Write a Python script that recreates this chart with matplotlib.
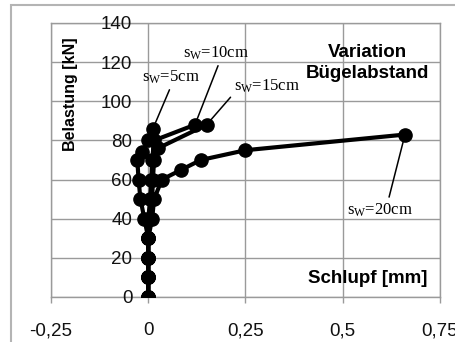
import matplotlib
matplotlib.use("Agg")
import matplotlib.pyplot as plt
from matplotlib.patches import Rectangle

plt.rcParams['font.family'] = ['Liberation Sans', 'DejaVu Sans']
plt.rcParams['mathtext.fontset'] = 'custom'
plt.rcParams['mathtext.rm'] = 'Liberation Serif'

# Schlupf [mm] / Belastung [kN] je Bügelabstand
sw5_x = [0, 0, 0, 0, -0.01, -0.02, -0.025, -0.028, -0.015, 0, 0.012]
sw5_y = [0, 10, 20, 30, 40, 50, 60, 70, 74, 80, 86]
sw10_x = [0, 0, 0, 0, 0, 0.005, 0.008, 0.01, 0.015, 0.12]
sw10_y = [0, 10, 20, 30, 40, 50, 60, 70, 80, 88]
sw15_x = [0, 0, 0, 0, 0.005, 0.01, 0.012, 0.015, 0.025, 0.15]
sw15_y = [0, 10, 20, 30, 40, 50, 60, 70, 76, 88]
sw20_x = [0, 0, 0, 0, 0.01, 0.015, 0.035, 0.085, 0.135, 0.25, 0.66]
sw20_y = [0, 10, 20, 30, 40, 50, 60, 65, 70, 75, 83]

series = [
    (sw5_x, sw5_y, "5cm"),
    (sw10_x, sw10_y, "10cm"),
    (sw15_x, sw15_y, "15cm"),
    (sw20_x, sw20_y, "20cm"),
]

x_ticks = [-0.25, 0, 0.25, 0.5, 0.75]
x_ticklabels = ["-0,25", "0", "0,25", "0,5", "0,75"]
y_ticks = [0, 20, 40, 60, 80, 100, 120, 140]

fig = plt.figure(figsize=(4.56, 3.42), dpi=100)
ax = fig.add_axes([51/456, 1-297/342, 389/456, 274/342])

grid_c = '#9a9a9a'
for s in ax.spines.values():
    s.set_color(grid_c)
    s.set_linewidth(1.0)
ax.set_xlim(-0.25, 0.75)
ax.set_ylim(0, 140)
ax.set_xticks(x_ticks)
ax.set_xticklabels(x_ticklabels, fontsize=13.5, color='#111111')
ax.set_yticks(y_ticks)
ax.set_yticklabels([])
ax.tick_params(axis='x', direction='out', length=4, width=1.0, color=grid_c, pad=14)
ax.tick_params(axis='y', length=0)
ax.grid(True, color=grid_c, linewidth=1.0)
ax.set_axisbelow(True)

# y tick labels next to x=0 axis
for v in y_ticks:
    ax.text(-0.041, v - 1, str(v), ha='right', va='center', fontsize=13.5, color='#111111')

for xs, ys, name in series:
    ax.plot(xs, ys, color='black', lw=3.0, marker='o', markersize=9.5, zorder=3)

# labels with leader lines
label_pos = {"5cm": (0.059, 112.4, (0.5, 0)),
             "10cm": (0.175, 124.7, (0.55, 0)),
             "15cm": (0.306, 107.8, (0.0, 0.1)),
             "20cm": (0.596, 44.5, (0.62, 1))}
for xs, ys, name in series:
    tx, ty, rp = label_pos[name]
    ax.annotate(r"$\mathregular{s_{W}}$=" + name, xy=(xs[-1], ys[-1]), xytext=(tx, ty),
                ha='center', va='center', fontsize=12, family='Liberation Serif',
                arrowprops=dict(arrowstyle='-', color='black', lw=1.1,
                                shrinkA=1, shrinkB=0, relpos=rp),
                zorder=4)

ax.text(0.563, 119.6, "Variation\nBügelabstand", ha='center', va='center',
        fontsize=13.5, fontweight='bold', linespacing=1.3)
ax.text(0.717, 9.2, "Schlupf [mm]", ha='right', va='center', fontsize=13.5, fontweight='bold')
ax.text(-0.199, 103.7, "Belastung [kN]", ha='center', va='center', rotation=90,
        fontsize=11.5, fontweight='bold')

fig.patches.append(Rectangle((11/456, -0.1), 1.2, 1 - 5/342 + 0.1, transform=fig.transFigure,
                             fill=False, edgecolor='#b4b4b4', linewidth=1.5))

fig.savefig("out.png", dpi=100)
